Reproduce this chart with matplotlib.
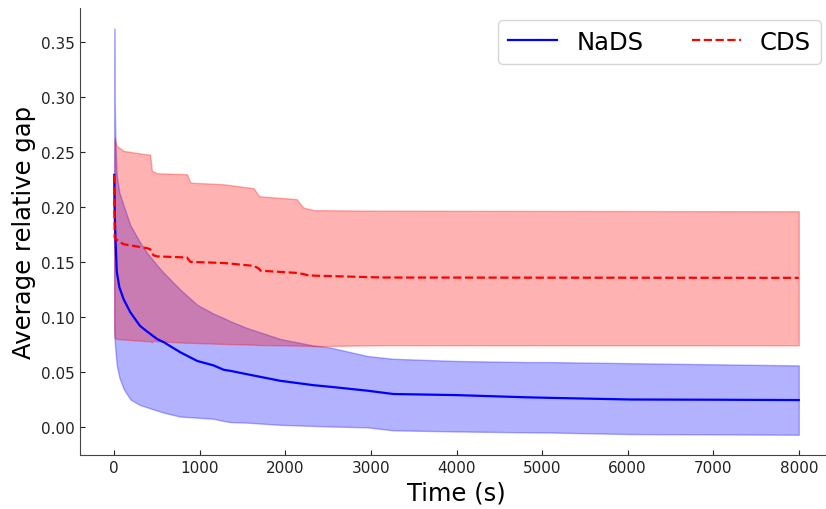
import matplotlib
matplotlib.use('Agg')
import matplotlib.pyplot as plt
import numpy as np

# NaDS (blue): time grid, mean and band
nads_t = [0, 5, 15, 30, 60, 110, 190, 300, 380, 500, 580, 770, 970, 1160, 1280,
          1360, 1550, 1940, 2330, 2520, 2960, 3260, 4000, 4820, 5090, 6040, 7000, 8000]
nads_mean = [0.229, 0.195, 0.170, 0.141, 0.127, 0.116, 0.104, 0.092, 0.087, 0.080,
             0.077, 0.068, 0.060, 0.056, 0.052, 0.051, 0.048, 0.042, 0.038, 0.0366,
             0.033, 0.030, 0.029, 0.027, 0.0265, 0.025, 0.0248, 0.0245]
nads_hi = [0.362, 0.300, 0.255, 0.228, 0.213, 0.201, 0.183, 0.168, 0.1585, 0.147,
           0.140, 0.125, 0.111, 0.103, 0.099, 0.096, 0.090, 0.080, 0.074, 0.0723,
           0.0645, 0.062, 0.060, 0.059, 0.059, 0.058, 0.057, 0.056]
nads_lo = [0.085, 0.078, 0.068, 0.056, 0.045, 0.0345, 0.025, 0.020, 0.018, 0.015,
           0.013, 0.0095, 0.0085, 0.0075, 0.0055, 0.0045, 0.004, 0.002, 0.001, 0.0005,
           -0.0003, -0.003, -0.004, -0.0048, -0.005, -0.0064, -0.0067, -0.007]

# CDS (red): time grid, mean and band
cds_t = [0, 5, 30, 110, 380, 420, 440, 460, 500, 850, 890, 1280, 1630, 1690, 1710,
         2130, 2210, 2250, 2290, 2330, 3150, 8000]
cds_mean = [0.229, 0.172, 0.170, 0.166, 0.1625, 0.1615, 0.158, 0.156, 0.155, 0.154,
            0.150, 0.149, 0.1464, 0.144, 0.142, 0.140, 0.139, 0.138, 0.138, 0.1375,
            0.1358, 0.1355]
cds_hi = [0.229, 0.263, 0.2553, 0.2508, 0.2477, 0.2475, 0.2326, 0.232, 0.2305, 0.2296,
          0.222, 0.2205, 0.2169, 0.210, 0.2095, 0.207, 0.1994, 0.1985, 0.198, 0.197,
          0.1965, 0.196]
cds_lo = [0.090, 0.081, 0.080, 0.0795, 0.078, 0.078, 0.077, 0.0785, 0.078, 0.0765,
          0.0765, 0.0755, 0.0748, 0.0745, 0.0745, 0.0740, 0.0738, 0.0738, 0.0737,
          0.0735, 0.0743, 0.0742]

xticks = [0, 1000, 2000, 3000, 4000, 5000, 6000, 7000, 8000]
yticks = [0.00, 0.05, 0.10, 0.15, 0.20, 0.25, 0.30, 0.35]

fig = plt.figure(figsize=(8.26, 5.10), dpi=100)
ax = fig.add_axes([80 / 826, 54 / 510, 753 / 826, 447 / 510])

ax.plot(nads_t, nads_mean, color='blue', lw=1.6, label='NaDS')
ax.fill_between(nads_t, nads_lo, nads_hi, color='blue', alpha=0.3)
ax.plot(cds_t, cds_mean, color='red', lw=1.6, ls='--', label='CDS')
ax.fill_between(cds_t, cds_lo, cds_hi, color='red', alpha=0.3)

ax.set_xlim(-400, 8400)
ax.set_ylim(-0.0254, 0.3806)
ax.set_xticks(xticks)
ax.set_yticks(yticks)
ax.set_yticklabels(['%.2f' % v for v in yticks])
ax.tick_params(direction='in', labelsize=11, colors='#222222')
for s in ['top', 'right']:
    ax.spines[s].set_visible(False)
for s in ['left', 'bottom']:
    ax.spines[s].set_color('#444444')

ax.set_xlabel('Time (s)', fontsize=17.5)
ax.set_ylabel('Average relative gap', fontsize=17.5)
ax.legend(loc='upper right', ncol=2, fontsize=17.5)

fig.savefig('out.png', dpi=100)
